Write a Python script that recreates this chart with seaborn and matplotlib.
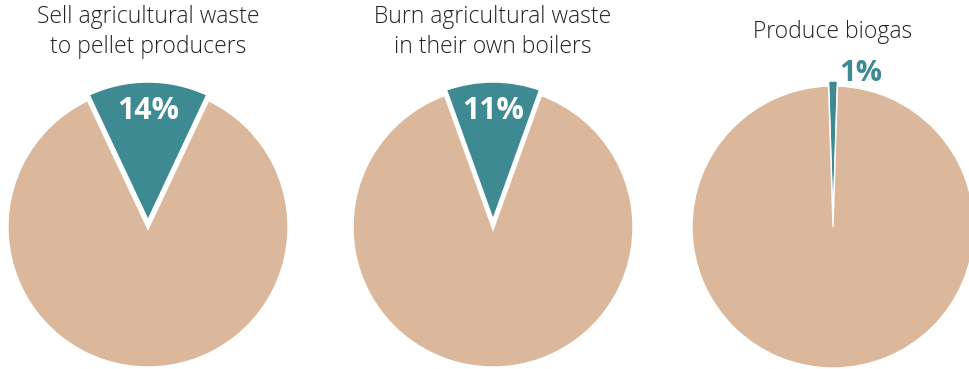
import matplotlib
matplotlib.use("Agg")
import matplotlib.pyplot as plt
import seaborn as sns

# survey shares (percent of farms)
titles = [
    "Sell agricultural waste\nto pellet producers",
    "Burn agricultural waste\nin their own boilers",
    "Produce biogas",
]
shares = [14, 11, 1]
centers_px = [148, 493, 833]  # pie centres along x

TEAL = "#3d8a93"
BEIGE = "#dbb89b"

sns.set_theme(style="white")
plt.rcParams["font.family"] = ["Open Sans", "DejaVu Sans"]

W, H = 969, 369
R = 141  # radius in px
CY = 227
fig = plt.figure(figsize=(W / 100, H / 100), dpi=100)

half = 175  # axes half-size in px
lim = half / R

for title, pct, cx in zip(titles, shares, centers_px):
    ax = fig.add_axes([(cx - half) / W, (H - CY - half) / H, 2 * half / W, 2 * half / H])
    wedges, _ = ax.pie(
        [pct, 100 - pct],
        colors=[TEAL, BEIGE],
        startangle=90 - pct * 3.6 / 2,
        explode=[0.035, 0],
        wedgeprops=dict(edgecolor="white", linewidth=2.4 if pct > 2 else 1.0),
        radius=1,
    )
    for w in wedges:
        w.set_clip_on(False)
    ax.set_xlim(-lim, lim)
    ax.set_ylim(-lim, lim)
    ax.set_aspect("equal")
    ax.axis("off")

    if pct > 2:
        ax.text(0, 0.82, f"{pct}%", ha="center", va="center", color="white",
                fontsize=22, fontweight="bold")
    else:
        ax.text(0.2, 1.09, f"{pct}%", ha="center", va="center", color=TEAL,
                fontsize=21, fontweight="bold", clip_on=False)

    fig.text(cx / W, 1 - 32 / H, title, ha="center", va="center", fontsize=16.5,
             color="#222222", linespacing=1.3, fontweight="light")

fig.savefig("out.png", dpi=100)
